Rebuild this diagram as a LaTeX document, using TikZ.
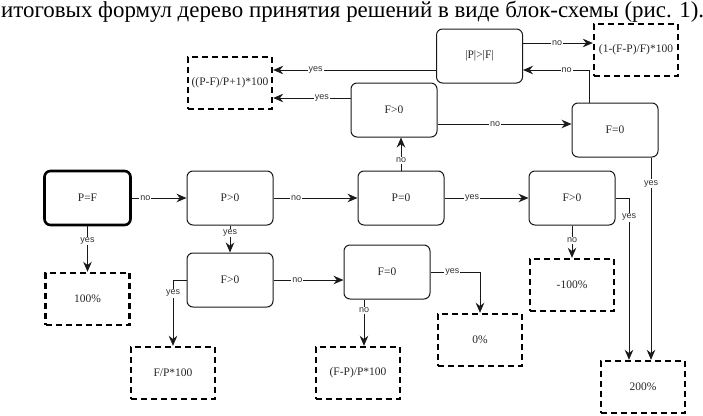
\documentclass[tikz,border=0pt]{standalone}
\usepackage{fontspec}
\setmainfont{Liberation Serif}
\newfontfamily\labelfont{Liberation Sans}
\usetikzlibrary{arrows.meta}
\begin{document}
\begin{tikzpicture}[x=1pt,y=-1pt,
  box/.style={draw=black!90, line width=1pt, rounded corners=6pt, minimum width=86pt, minimum height=54pt,
    font=\fontsize{11.5}{13}\selectfont, text=black!85},
  start/.style={box, draw=black, line width=2.6pt},
  result/.style={draw, line width=2.4pt, dash pattern=on 6pt off 4pt, minimum width=84pt,
    minimum height=52pt, font=\fontsize{11.5}{13}\selectfont, text=black!85},
  link/.style={draw=black!90, line width=0.9pt, -{Stealth[length=10pt,width=8.5pt]}},
  lbl/.style={fill=white, inner sep=1pt, font=\labelfont\fontsize{9}{10}\selectfont, text=black!80}]
\useasboundingbox (0,0) rectangle (703,415);
\node[anchor=base west, inner sep=0pt, font=\fontsize{22.9}{26}\selectfont] (0) at (1,17.5)
  {итоговых формул дерево принятия решений в виде блок-схемы (рис. 1).};
\node[start] (1) at (87.5,198) {P=F};
\node[box] (2) at (230,198) {P>0};
\node[box] (3) at (401,198) {P=0};
\node[box] (4) at (572,198) {F>0};
\node[box] (5) at (394,110) {F>0};
\node[box] (6) at (615,130) {F=0};
\node[box] (7) at (479.5,56) {|P|>|F|};
\node[box] (8) at (230,280) {F>0};
\node[box] (9) at (387,272) {F=0};
\node[result] (r1) at (87.5,299) {100\%};
\node[result] (r2) at (230,83) {((P-F)/P+1)*100};
\node[result] (r3) at (636,50) {(1-(F-P)/F)*100};
\node[result] (r4) at (173,373) {F/P*100};
\node[result] (r5) at (358,373) {(F-P)/P*100};
\node[result] (r6) at (480,340) {0\%};
\node[result] (r7) at (572,285) {-100\%};
\node[result] (r8) at (643,387) {200\%};
\path[link] (1) -- (2) node[lbl,pos=0.25] {no};
\path[link] (1) -- (r1) node[lbl,pos=0.32] {yes};
\path[link] (2) -- (3) node[lbl,pos=0.27] {no};
\path[link] (2) -- (8) node[lbl,pos=0.28] {yes};
\path[link] (3) -- (4) node[lbl,pos=0.33] {yes};
\path[link] (3.north) -- (3.north |- 5.south) node[lbl,pos=0.3] {no};
\path[link] ([yshift=12pt]5.west) -- ([yshift=12pt]5.west -| r2.east) node[lbl,pos=0.37] {yes};
\path[link] ([yshift=-14pt]5.east) -- ([yshift=-14pt]5.east -| 6.west) node[lbl,pos=0.43] {no};
\path[link] ([xshift=-26pt]6.north) |- ([yshift=-14pt]7.east) node[lbl,pos=0.67] {no};
\path[link] ([yshift=-14pt]7.west) -- ([yshift=-14pt]7.west -| r2.east) node[lbl,pos=0.74] {yes};
\path[link] ([yshift=13pt]7.east) -- ([yshift=13pt]7.east -| r3.west) node[lbl,pos=0.49] {no};
\path[link] ([xshift=36pt]6.south) -- ([xshift=36pt]6.south |- r8.north) node[lbl,pos=0.13] {yes};
\path[link] (4.east) -| ([xshift=-14pt]r8.north) node[lbl,pos=0.56] {yes};
\path[link] (4) -- (r7) node[lbl,pos=0.45] {no};
\path[link] (8) -- (9.west |- 8) node[lbl,pos=0.34] {no};
\path[link] (8.west) -| (r4.north) node[lbl,pos=0.6] {yes};
\path[link] (9.east) -| (r6.north) node[lbl,pos=0.22] {yes};
\path[link] ([xshift=-23pt]9.south) -- ([xshift=-23pt]9.south |- r5.north) node[lbl,pos=0.23] {no};
\end{tikzpicture}
\end{document}
